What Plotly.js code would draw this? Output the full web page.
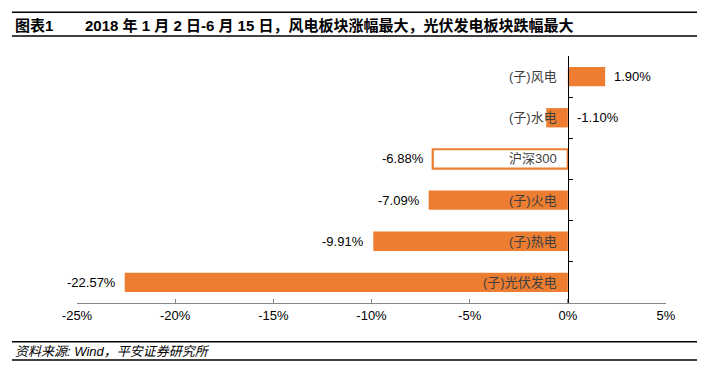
<!DOCTYPE html>
<html>
<head>
<meta charset="utf-8">
<script src="https://cdn.plot.ly/plotly-3.0.1.min.js"></script>
<style>html,body{margin:0;padding:0;background:#fff;}#chart{width:724px;height:379px;}</style>
</head>
<body>
<div id="chart"></div>
<script>
// ---- data ----
const categories = ['(子)风电', '(子)水电', '沪深300', '(子)火电', '(子)热电', '(子)光伏发电'];
const values = [1.90, -1.10, -6.88, -7.09, -9.91, -22.57];
const xTickValues = [-25, -20, -15, -10, -5, 0, 5];
const benchmark = '沪深300';
const titleLabel = '图表1';
const titleText = '2018 年 1 月 2 日-6 月 15 日，风电板块涨幅最大，光伏发电板块跌幅最大';
const sourceText = '资料来源: Wind，平安证券研究所';

// ---- layout helpers (pixel -> paper) ----
const W = 724, H = 379;
const L = 77, R = 666, T = 56, B = 303;
const px = X => (X - L) / (R - L);
const py = Y => (B - Y) / (B - T);

const FONT = 'Liberation Sans, Arial, Noto Sans CJK SC, sans-serif';
const ORANGE = '#ED7D31';

const idx = categories.map((c, i) => i);
const isBench = categories.map(c => c === benchmark);

const trace = {
  type: 'bar',
  orientation: 'h',
  y: idx,
  x: values,
  width: 0.47,
  marker: {
    color: isBench.map(b => b ? '#ffffff' : ORANGE),
    line: { color: ORANGE, width: isBench.map(b => b ? 2.2 : 0) }
  },
  hoverinfo: 'skip'
};

const annotations = [];
categories.forEach((c, i) => {
  annotations.push({
    x: 0, y: i, xref: 'x', yref: 'y', text: c, showarrow: false,
    xanchor: 'right', yanchor: 'middle', xshift: -9,
    font: { family: FONT, size: 13, color: '#404040' }
  });
  const v = values[i];
  const txt = v.toFixed(2) + '%';
  if (v >= 0 || Math.abs(v) < 2) {
    annotations.push({
      x: Math.max(v, 0), y: i, xref: 'x', yref: 'y', text: txt, showarrow: false,
      xanchor: 'left', yanchor: 'middle', xshift: 7,
      font: { family: FONT, size: 13, color: '#000' }
    });
  } else {
    annotations.push({
      x: v, y: i, xref: 'x', yref: 'y', text: txt, showarrow: false,
      xanchor: 'right', yanchor: 'middle', xshift: -7,
      font: { family: FONT, size: 13, color: '#000' }
    });
  }
});

annotations.push({
  x: px(13), y: py(26), xref: 'paper', yref: 'paper', text: '<b>' + titleLabel + '</b>',
  showarrow: false, xanchor: 'left', yanchor: 'middle',
  font: { family: FONT, size: 15, color: '#000' }
});
annotations.push({
  x: px(83), y: py(26), xref: 'paper', yref: 'paper', text: '<b>' + titleText + '</b>',
  showarrow: false, xanchor: 'left', yanchor: 'middle',
  font: { family: FONT, size: 15, color: '#000' }
});
annotations.push({
  x: px(13), y: py(351), xref: 'paper', yref: 'paper', text: '<i>' + sourceText + '</i>',
  showarrow: false, xanchor: 'left', yanchor: 'middle',
  font: { family: FONT, size: 13, color: '#000' }
});

const hline = (Y) => ({
  type: 'line', xref: 'paper', yref: 'paper',
  x0: px(12), x1: px(697), y0: py(Y), y1: py(Y),
  line: { color: '#000', width: 1.4 }
});

const boundaries = [];
for (let i = 0; i < categories.length; i++) boundaries.push(i - 0.5);

const layout = {
  width: W, height: H,
  margin: { l: L, r: W - R, t: T, b: H - B, pad: 0 },
  paper_bgcolor: '#fff', plot_bgcolor: '#fff',
  showlegend: false,
  xaxis: {
    range: [-25, 5], tickvals: xTickValues, ticktext: xTickValues.map(v => v + '%'),
    ticks: 'inside', ticklen: 4, tickcolor: '#868686', tickwidth: 1,
    showline: true, linecolor: '#868686', linewidth: 1.3,
    showgrid: false, zeroline: false,
    tickfont: { family: FONT, size: 13, color: '#000' },
    fixedrange: true
  },
  yaxis: {
    range: [categories.length - 0.5, -0.5],
    anchor: 'free', position: (0 - (-25)) / 30, side: 'left',
    tickvals: boundaries, showticklabels: false,
    ticks: 'inside', ticklen: 4, tickcolor: '#000', tickwidth: 1,
    showline: true, linecolor: '#000', linewidth: 1.2,
    showgrid: false, zeroline: false, fixedrange: true
  },
  annotations: annotations,
  shapes: [hline(12.3), hline(36), hline(341.7), hline(360)]
};

Plotly.newPlot('chart', [trace], layout, { displayModeBar: false, staticPlot: true });
</script>
</body>
</html>
